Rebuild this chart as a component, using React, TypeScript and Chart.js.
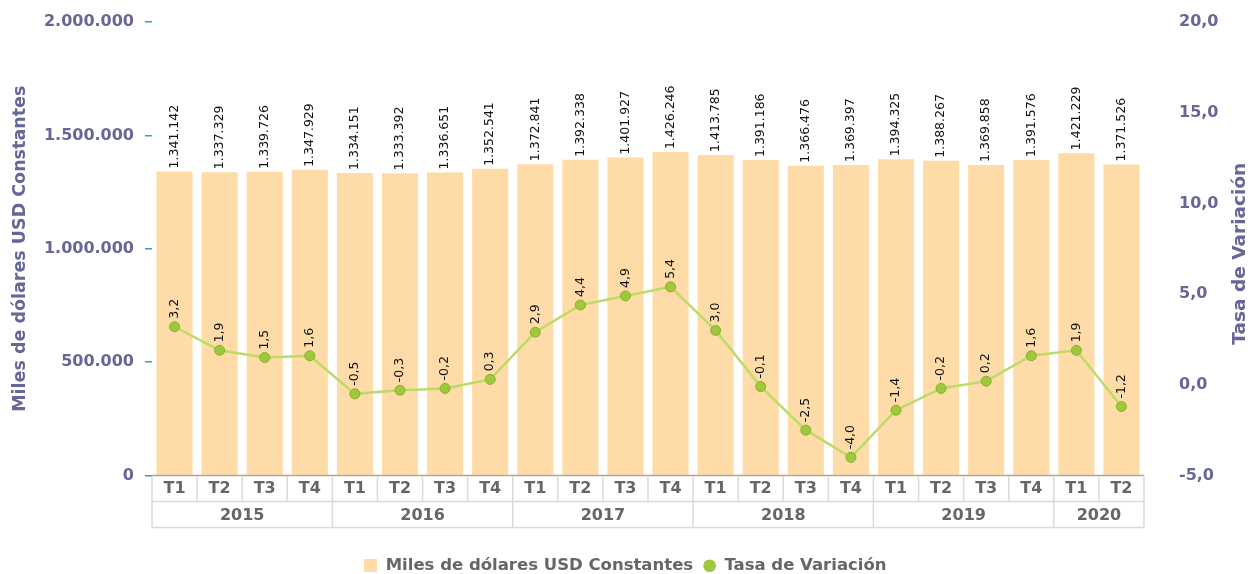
import React, { useEffect, useRef } from "react";
import { Chart, registerables } from "chart.js";

Chart.register(...registerables);

const FONT = "'DejaVu Sans', 'Verdana', sans-serif";

const quarters = ["T1", "T2", "T3", "T4", "T1", "T2", "T3", "T4", "T1", "T2", "T3", "T4", "T1", "T2", "T3", "T4", "T1", "T2", "T3", "T4", "T1", "T2"];
const years = ["2015", "2016", "2017", "2018", "2019", "2020"];
const yearSpans = [4, 4, 4, 4, 4, 2];

const usdValues = [1341142, 1337329, 1339726, 1347929, 1334151, 1333392, 1336651, 1352541, 1372841, 1392338, 1401927, 1426246, 1413785, 1391186, 1366476, 1369397, 1394325, 1388267, 1369858, 1391576, 1421229, 1371526];
const rateValues = [3.2, 1.9, 1.5, 1.6, -0.5, -0.3, -0.2, 0.3, 2.9, 4.4, 4.9, 5.4, 3.0, -0.1, -2.5, -4.0, -1.4, -0.2, 0.2, 1.6, 1.9, -1.2];

const leftTitle = "Miles de dólares USD Constantes";
const rightTitle = "Tasa de Variación";

const BAR_COLOR = "#FFDBA8";
const LINE_COLOR = "#BCDB67";
const POINT_COLOR = "#A0C83C";
const POINT_BORDER = "#88AF2E";
const AXIS_TEXT = "#666699";
const GRID_COLOR = "#dadada";

function fmtThousands(n: number): string {
  return Math.round(n).toString().replace(/\B(?=(\d{3})+(?!\d))/g, ".");
}
function fmtRate(n: number): string {
  return n.toFixed(1).replace(".", ",");
}

const overlayPlugin = {
  id: "overlay",
  afterDatasetsDraw(chart: any) {
    const ctx = chart.ctx;
    const area = chart.chartArea;
    ctx.save();
    ctx.strokeStyle = "#B8A483";
    ctx.lineWidth = 1.5;
    ctx.beginPath();
    ctx.moveTo(area.left, area.bottom);
    ctx.lineTo(area.right, area.bottom);
    ctx.stroke();

    ctx.font = `12.5px ${FONT}`;
    ctx.fillStyle = "#111";
    ctx.textAlign = "left";
    ctx.textBaseline = "middle";
    const barMeta = chart.getDatasetMeta(0);
    barMeta.data.forEach((el: any, i: number) => {
      ctx.save();
      ctx.translate(el.x, el.y - 3);
      ctx.rotate(-Math.PI / 2);
      ctx.fillText(fmtThousands(usdValues[i]), 0, 0);
      ctx.restore();
    });
    const lineMeta = chart.getDatasetMeta(1);
    lineMeta.data.forEach((el: any, i: number) => {
      ctx.save();
      ctx.translate(el.x, el.y - 8);
      ctx.rotate(-Math.PI / 2);
      ctx.fillText(fmtRate(rateValues[i]), 0, 0);
      ctx.restore();
    });
    ctx.restore();
  },
  afterDraw(chart: any) {
    const ctx = chart.ctx;
    const area = chart.chartArea;
    const n = quarters.length;
    const catW = (area.right - area.left) / n;
    const row1 = area.bottom + 26;
    const row2 = area.bottom + 52;
    ctx.save();
    ctx.strokeStyle = GRID_COLOR;
    ctx.lineWidth = 1.5;
    const yearStarts: number[] = [];
    let acc = 0;
    yearSpans.forEach((s) => {
      yearStarts.push(acc);
      acc += s;
    });
    yearStarts.push(acc);
    for (let i = 0; i <= n; i++) {
      const x = area.left + i * catW;
      const isYear = yearStarts.indexOf(i) >= 0;
      ctx.beginPath();
      ctx.moveTo(x, area.bottom + 1);
      ctx.lineTo(x, isYear ? row2 : row1);
      ctx.stroke();
    }
    ctx.beginPath();
    ctx.moveTo(area.left, row1);
    ctx.lineTo(area.right, row1);
    ctx.moveTo(area.left, row2);
    ctx.lineTo(area.right, row2);
    ctx.stroke();

    ctx.fillStyle = "#666666";
    ctx.font = `bold 16px ${FONT}`;
    ctx.textAlign = "center";
    ctx.textBaseline = "middle";
    years.forEach((y, k) => {
      const x0 = area.left + yearStarts[k] * catW;
      const x1 = area.left + yearStarts[k + 1] * catW;
      ctx.fillText(y, (x0 + x1) / 2, (row1 + row2) / 2 + 1);
    });

    ctx.fillStyle = AXIS_TEXT;
    const cy = (area.top + area.bottom) / 2;
    ctx.font = `bold 17.5px ${FONT}`;
    ctx.save();
    ctx.translate(20, cy);
    ctx.rotate(-Math.PI / 2);
    ctx.fillText(leftTitle, 0, 0);
    ctx.restore();
    ctx.font = `bold 18.5px ${FONT}`;
    ctx.save();
    ctx.translate(1240, cy + 5);
    ctx.rotate(-Math.PI / 2);
    ctx.fillText(rightTitle, 0, 0);
    ctx.restore();
    ctx.restore();
  },
};

export default function App() {
  const canvasRef = useRef<HTMLCanvasElement | null>(null);

  useEffect(() => {
    const canvas = canvasRef.current;
    if (!canvas) return;

    const sq = document.createElement("canvas");
    sq.width = 13;
    sq.height = 13;
    const sctx = sq.getContext("2d");
    if (sctx) {
      sctx.fillStyle = BAR_COLOR;
      sctx.fillRect(0, 0, 13, 13);
    }

    const chart = new Chart(canvas, {
      type: "bar",
      data: {
        labels: quarters,
        datasets: [
          {
            type: "bar",
            label: leftTitle,
            data: usdValues,
            backgroundColor: BAR_COLOR,
            borderWidth: 0,
            categoryPercentage: 1,
            barPercentage: 0.8,
            yAxisID: "y",
            order: 2,
          } as any,
          {
            type: "line",
            label: rightTitle,
            data: rateValues,
            borderColor: LINE_COLOR,
            backgroundColor: POINT_COLOR,
            borderWidth: 2.5,
            pointStyle: "circle",
            pointRadius: 5,
            pointBackgroundColor: POINT_COLOR,
            pointBorderColor: POINT_BORDER,
            pointBorderWidth: 1,
            tension: 0,
            yAxisID: "y1",
            order: 1,
          } as any,
        ],
      },
      options: {
        animation: false,
        responsive: false,
        devicePixelRatio: 1,
        layout: { padding: { top: 22, left: 0, right: 0, bottom: 0 } },
        plugins: {
          tooltip: { enabled: false },
          legend: {
            display: true,
            position: "bottom",
            labels: {
              usePointStyle: true,
              boxWidth: 13,
              boxHeight: 9,
              padding: 10,
              color: "#666666",
              font: { family: FONT, size: 16.5, weight: "bold" },
              sort: (a: any, b: any) => a.datasetIndex - b.datasetIndex,
              generateLabels: (c: any) => {
                const items = (Chart as any).defaults.plugins.legend.labels.generateLabels(c);
                items.forEach((it: any) => {
                  if (it.datasetIndex === 0) {
                    it.pointStyle = sq;
                  } else {
                    it.pointStyle = "circle";
                    it.fillStyle = POINT_COLOR;
                    it.strokeStyle = POINT_COLOR;
                    it.lineWidth = 0;
                  }
                });
                return items;
              },
            },
          },
        },
        scales: {
          x: {
            type: "category",
            offset: true,
            grid: { display: false, drawTicks: false },
            border: { display: false },
            ticks: {
              autoSkip: false,
              maxRotation: 0,
              padding: 4,
              color: "#666666",
              font: { family: FONT, size: 16, weight: "bold" },
            },
            afterFit: (s: any) => {
              s.height = 72;
            },
          },
          y: {
            position: "left",
            min: 0,
            max: 2000000,
            ticks: {
              stepSize: 500000,
              padding: 11,
              color: AXIS_TEXT,
              font: { family: FONT, size: 16, weight: "bold" },
              callback: (v: any) => fmtThousands(Number(v)),
            },
            grid: {
              display: true,
              drawOnChartArea: false,
              drawTicks: true,
              tickLength: 7,
              color: "#3D9AD6",
              lineWidth: 1.5,
            },
            border: { display: false },
            afterFit: (s: any) => {
              s.width = 152;
            },
          },
          y1: {
            position: "right",
            min: -5,
            max: 20,
            ticks: {
              stepSize: 5,
              padding: 2,
              color: AXIS_TEXT,
              font: { family: FONT, size: 16, weight: "bold" },
              callback: (v: any) => fmtRate(Number(v)),
            },
            grid: {
              display: true,
              drawOnChartArea: false,
              drawTicks: true,
              tickLength: 33,
              color: "rgba(0,0,0,0)",
            },
            border: { display: false },
            afterFit: (s: any) => {
              s.width = 107;
            },
          },
        },
      },
      plugins: [overlayPlugin],
    } as any);

    return () => {
      chart.destroy();
    };
  }, []);

  return (
    <div
      style={{
        position: "absolute",
        left: 0,
        top: 0,
        width: 1251,
        height: 574,
        overflow: "hidden",
        background: "#fff",
      }}
    >
      <canvas ref={canvasRef} width={1251} height={584} style={{ display: "block" }} />
    </div>
  );
}
